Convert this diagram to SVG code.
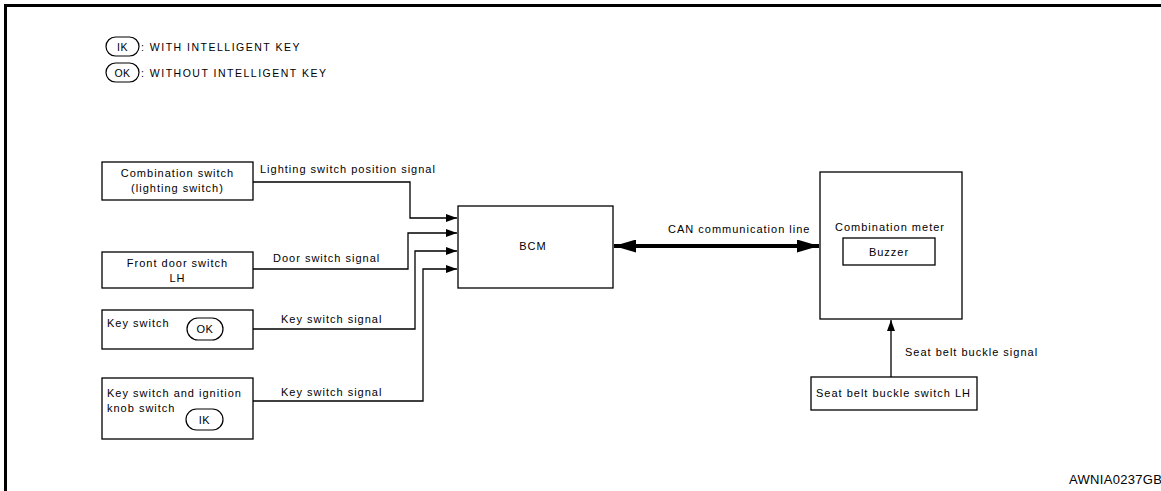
<svg xmlns="http://www.w3.org/2000/svg" width="1161" height="491" viewBox="0 0 1161 491">
<style>
text{font-family:"Liberation Sans",Arial,sans-serif;font-size:11px;letter-spacing:1px;fill:#000}
.lg{font-size:10.5px;letter-spacing:1.5px}
.box{fill:#fff;stroke:#000;stroke-width:1.3}
.ov{fill:#fff;stroke:#000;stroke-width:1.2}
.ln{fill:none;stroke:#000;stroke-width:1.3}
.c{text-anchor:middle}
</style>
<defs>
<marker id="ah" viewBox="0 0 11 8" refX="11" refY="4" markerWidth="11" markerHeight="8" markerUnits="userSpaceOnUse" orient="auto">
<path d="M0,0L11,4L0,8z" fill="#000"/>
</marker>
<marker id="big" viewBox="0 0 22 13" refX="22" refY="6.5" markerWidth="22" markerHeight="13" markerUnits="userSpaceOnUse" orient="auto-start-reverse">
<path d="M0,0L22,6.5L0,13z" fill="#000"/>
</marker>
</defs>
<rect width="1161" height="491" fill="#fff"/>
<path d="M5.5,491V5.5H1161" fill="none" stroke="#000" stroke-width="3"/>
<g id="legend">
<rect class="ov" x="106" y="37" width="33" height="19" rx="9.5"/>
<text class="lg c" x="122.5" y="51" style="letter-spacing:0.5px">IK</text>
<text class="lg" x="141" y="51">: WITH INTELLIGENT KEY</text>
<rect class="ov" x="106" y="63" width="33" height="19" rx="9.5"/>
<text class="lg c" x="122.5" y="77" style="letter-spacing:0.5px">OK</text>
<text class="lg" x="141" y="77">: WITHOUT INTELLIGENT KEY</text>
</g>
<g id="connectors">
<path class="ln" d="M253,182H410V218H457" marker-end="url(#ah)"/>
<path class="ln" d="M253,269H408V233H457" marker-end="url(#ah)"/>
<path class="ln" d="M253,329H415V251H457" marker-end="url(#ah)"/>
<path class="ln" d="M253,401H423V269H457" marker-end="url(#ah)"/>
<path d="M614,246H819" fill="none" stroke="#000" stroke-width="4" marker-start="url(#big)" marker-end="url(#big)"/>
<path class="ln" d="M891,377V320" marker-end="url(#ah)"/>
<text x="260" y="173">Lighting switch position signal</text>
<text x="273" y="262">Door switch signal</text>
<text x="281" y="323">Key switch signal</text>
<text x="281" y="396">Key switch signal</text>
<text x="668" y="233">CAN communication line</text>
<text x="905" y="356">Seat belt buckle signal</text>
</g>
<g id="comb-switch">
<rect class="box" x="102" y="162" width="151" height="38"/>
<text class="c" x="177.5" y="177">Combination switch</text>
<text class="c" x="177.5" y="192">(lighting switch)</text>
</g>
<g id="front-door">
<rect class="box" x="102" y="252" width="151" height="36"/>
<text class="c" x="177.5" y="267">Front door switch</text>
<text class="c" x="177.5" y="282">LH</text>
</g>
<g id="key-switch">
<rect class="box" x="102" y="310" width="151" height="39"/>
<text x="107" y="327">Key switch</text>
<rect class="ov" x="187" y="318" width="36" height="22" rx="11"/>
<text class="c" x="205" y="333" style="letter-spacing:0.5px">OK</text>
</g>
<g id="key-ign">
<rect class="box" x="102" y="378" width="151" height="61"/>
<text x="107" y="397">Key switch and ignition</text>
<text x="107" y="412">knob switch</text>
<rect class="ov" x="186" y="409" width="37" height="21" rx="10.5"/>
<text class="c" x="204.5" y="424" style="letter-spacing:0.5px">IK</text>
</g>
<g id="bcm">
<rect class="box" x="458" y="206" width="155" height="82"/>
<text class="c" x="533" y="250">BCM</text>
</g>
<g id="comb-meter">
<rect class="box" x="820" y="172" width="142" height="147"/>
<text class="c" x="890" y="231">Combination meter</text>
<rect class="box" x="843" y="238" width="92" height="27"/>
<text class="c" x="889" y="256">Buzzer</text>
</g>
<g id="seat-belt">
<rect class="box" x="811" y="377" width="166" height="33"/>
<text x="816" y="397">Seat belt buckle switch LH</text>
</g>
<text x="1069" y="484" style="font-size:13px;letter-spacing:0.3px">AWNIA0237GB</text>
</svg>
